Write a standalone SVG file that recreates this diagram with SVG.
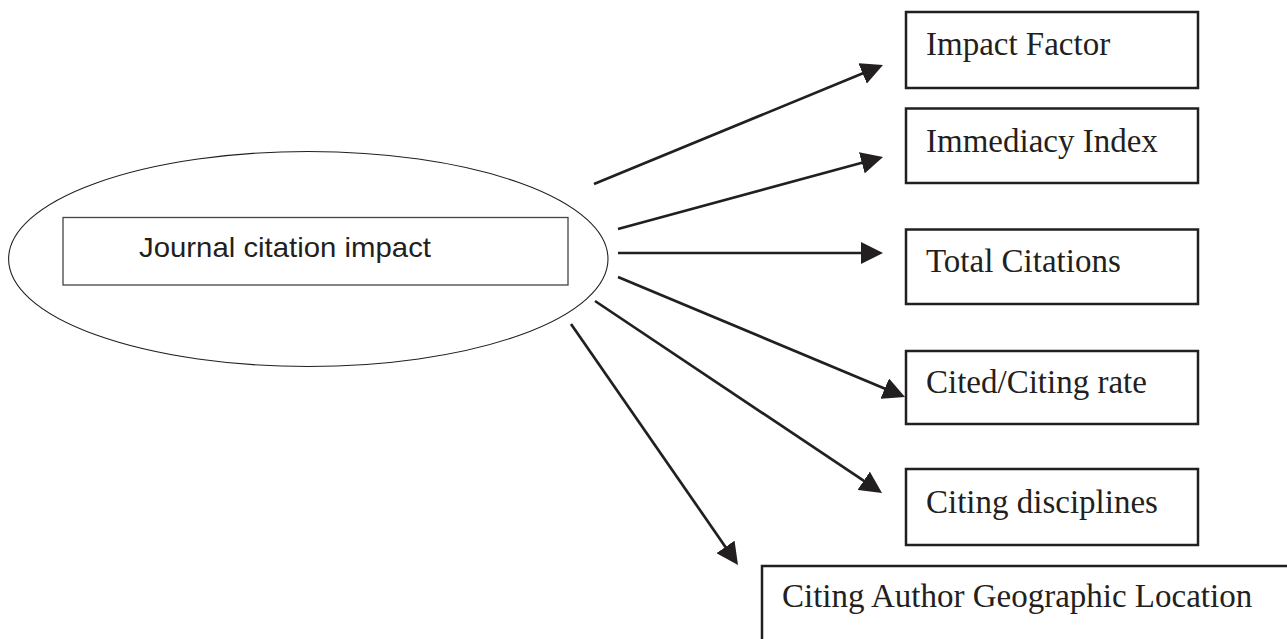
<svg xmlns="http://www.w3.org/2000/svg" width="1287" height="639" viewBox="0 0 1287 639">
<defs>
<style>
.box{fill:#ffffff;stroke:#231f20;stroke-width:2.5}
.lbl{font-family:"Liberation Serif","Times New Roman",serif;font-size:33px;fill:#231f20}
.conn{stroke:#231f20;stroke-width:2.7;fill:none;marker-end:url(#ah)}
</style>
<marker id="ah" markerUnits="userSpaceOnUse" markerWidth="22" markerHeight="22" refX="3" refY="11" orient="auto" viewBox="0 0 22 22">
<path d="M0,0 L22,11 L0,22 Z" fill="#231f20"/>
</marker>
</defs>
<rect width="1287" height="639" fill="#ffffff"/>
<g id="center">
<ellipse cx="308.3" cy="259" rx="299.7" ry="107.5" fill="none" stroke="#231f20" stroke-width="1.1"/>
<rect x="63" y="217.5" width="505" height="67.5" fill="none" stroke="#444" stroke-width="1.3"/>
<text x="139" y="257" font-family="'Liberation Sans',Arial,sans-serif" font-size="28" fill="#231f20" textLength="292" lengthAdjust="spacingAndGlyphs">Journal citation impact</text>
</g>
<g id="connectors">
<line class="conn" x1="594" y1="184" x2="865.4" y2="72.3"/>
<line class="conn" x1="618" y1="229" x2="864.7" y2="162"/>
<line class="conn" x1="618" y1="253" x2="864" y2="253"/>
<line class="conn" x1="618" y1="277" x2="887.5" y2="389.7"/>
<line class="conn" x1="595" y1="301" x2="866.2" y2="482.4"/>
<line class="conn" x1="571" y1="324" x2="727.2" y2="549.4"/>
</g>
<g id="impact-factor">
<rect class="box" x="906" y="12" width="292" height="76"/>
<text class="lbl" x="926" y="55">Impact Factor</text>
</g>
<g id="immediacy-index">
<rect class="box" x="906" y="108.5" width="292" height="74.5"/>
<text class="lbl" x="926" y="152">Immediacy Index</text>
</g>
<g id="total-citations">
<rect class="box" x="906" y="229.5" width="292" height="74.5"/>
<text class="lbl" x="926" y="272">Total Citations</text>
</g>
<g id="cited-citing-rate">
<rect class="box" x="906" y="351" width="292" height="73"/>
<text class="lbl" x="926" y="393">Cited/Citing rate</text>
</g>
<g id="citing-disciplines">
<rect class="box" x="906" y="469" width="292" height="76"/>
<text class="lbl" x="926" y="513">Citing disciplines</text>
</g>
<g id="citing-author-location">
<rect class="box" x="762" y="566" width="600" height="120"/>
<text class="lbl" x="782" y="607">Citing Author Geographic Location</text>
</g>
</svg>
